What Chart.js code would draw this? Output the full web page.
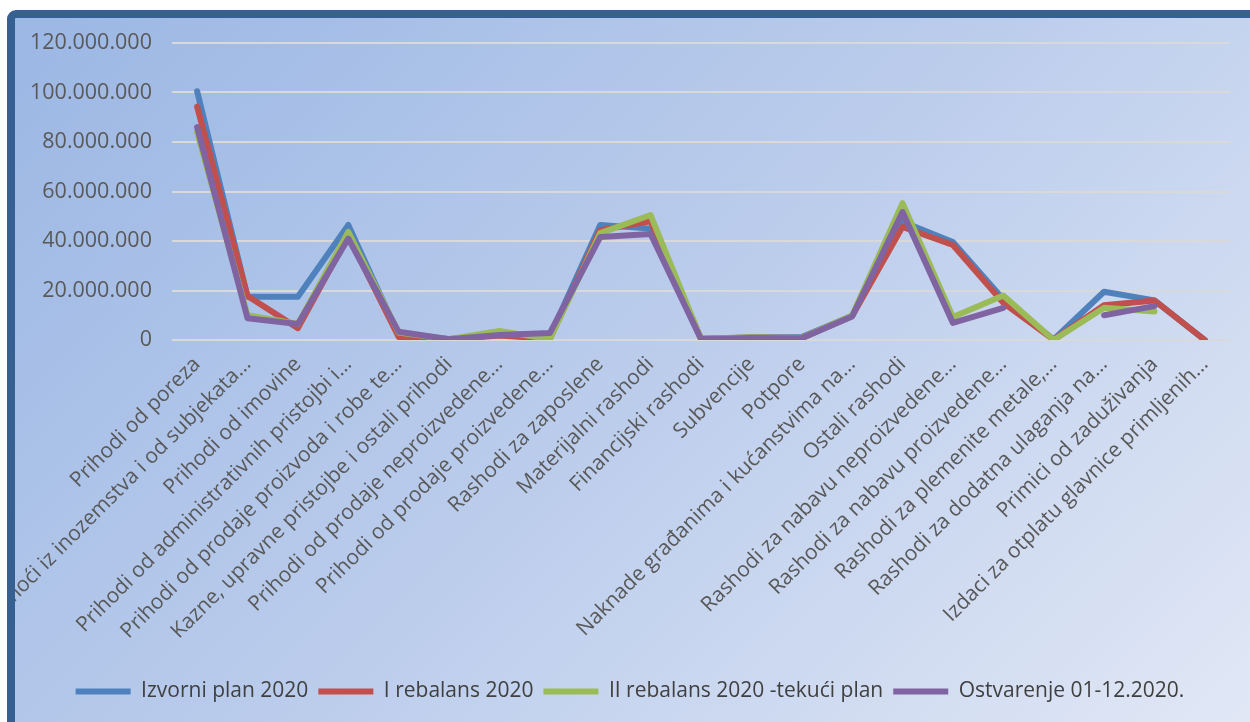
<!DOCTYPE html>
<html lang="hr">
<head>
    <meta charset="UTF-8">
    <title>Plan i ostvarenje 2020</title>
    <script src="https://cdn.jsdelivr.net/npm/chart.js"></script>
    <style>
        html, body { margin: 0; padding: 0; background: #fff; overflow: hidden; }
        .frame {
            position: absolute; left: 7px; top: 10px;
            width: 1260px; height: 730px;
            border: 8px solid #376092; border-radius: 9px;
            background: linear-gradient(135deg, #9bb7e4 0%, #bccdec 50%, #e3e9f6 100%);
        }
        .wrap { position: absolute; left: 15px; top: 18px; width: 1235px; height: 704px; }
    </style>
</head>
<body>
    <div class="frame"></div>
    <div class="wrap"><canvas id="chart"></canvas></div>
    <script>
        // Kategorije (x os)
        const categories = [
            "Prihodi od poreza",
            "Pomoći iz inozemstva i od subjekata…",
            "Prihodi od imovine",
            "Prihodi od administrativnih pristojbi i…",
            "Prihodi od prodaje proizvoda i robe te…",
            "Kazne, upravne pristojbe i ostali prihodi",
            "Prihodi od prodaje neproizvedene…",
            "Prihodi od prodaje proizvedene…",
            "Rashodi za zaposlene",
            "Materijalni rashodi",
            "Financijski rashodi",
            "Subvencije",
            "Potpore",
            "Naknade građanima i kućanstvima na…",
            "Ostali rashodi",
            "Rashodi za nabavu neproizvedene…",
            "Rashodi za nabavu proizvedene…",
            "Rashodi za plemenite metale,…",
            "Rashodi za dodatna ulaganja na…",
            "Primici od zaduživanja",
            "Izdaci za otplatu glavnice primljenih…"
        ];

        // Vrijednosti po seriji
        const izvorniPlan = [100500000, 17500000, 17500000, 46500000, 2000000, 400000, 2000000, 1500000, 46500000, 45000000,
            500000, 1000000, 1200000, 9800000, 47800000, 39600000, 16500000, 200000, 19500000, 16000000, 0];
        const iRebalans = [94300000, 17800000, 4800000, 42000000, 1200000, 300000, 1800000, 500000, 44400000, 48000000,
            500000, 1000000, 800000, 9700000, 45700000, 38400000, 15000000, 100000, 14000000, 16000000, 0];
        const iiRebalans = [84000000, 10000000, 6500000, 43700000, 3000000, 300000, 3700000, 300000, 43200000, 50500000,
            600000, 1000000, 800000, 9900000, 55300000, 9300000, 18000000, 0, 13000000, 11500000, null];
        const ostvarenje = [86000000, 8800000, 6500000, 41000000, 3300000, 300000, 2000000, 2800000, 41600000, 42800000,
            400000, 800000, 700000, 9500000, 51700000, 6900000, 13000000, null, 10000000, 13700000, null];

        const seriesNames = ["Izvorni plan 2020", "I rebalans 2020", "II rebalans 2020 -tekući plan", "Ostvarenje 01-12.2020."];
        const seriesColors = ["#4f81bd", "#c0504d", "#9bbb59", "#8064a2"];
        const seriesValues = [izvorniPlan, iRebalans, iiRebalans, ostvarenje];

        const yTicks = [0, 20000000, 40000000, 60000000, 80000000, 100000000, 120000000];

        function fmt(v) {
            return v.toString().replace(/\B(?=(\d{3})+(?!\d))/g, ".");
        }

        const datasets = seriesValues.map((vals, i) => ({
            label: seriesNames[i],
            data: vals,
            borderColor: seriesColors[i],
            backgroundColor: seriesColors[i],
            borderWidth: 6,
            borderJoinStyle: "round",
            borderCapStyle: "round",
            pointRadius: 0,
            tension: 0,
            order: 4 - i // zadnja serija crta se na vrhu
        }));

        const ctx = document.getElementById("chart").getContext("2d");
        new Chart(ctx, {
            type: "line",
            data: { labels: categories, datasets: datasets },
            options: {
                responsive: true,
                maintainAspectRatio: false,
                animation: false,
                layout: { padding: { left: 15, right: 20, top: 25, bottom: 10 } },
                plugins: {
                    tooltip: { enabled: false },
                    legend: {
                        position: "bottom",
                        labels: {
                            color: "#404040",
                            font: { family: "Open Sans", size: 21 },
                            boxWidth: 55,
                            boxHeight: 6,
                            padding: 10,
                            generateLabels: (chart) => chart.data.datasets.map((ds, i) => ({
                                text: ds.label,
                                fillStyle: ds.borderColor,
                                strokeStyle: ds.borderColor,
                                lineWidth: 0,
                                fontColor: "#404040",
                                datasetIndex: i,
                                hidden: false
                            }))
                        }
                    }
                },
                scales: {
                    x: {
                        offset: true,
                        grid: { display: false, drawTicks: false },
                        border: { display: false },
                        afterFit: (scale) => {
                            // prvi nagnuti natpis smije izaći lijevo, kao u predlošku
                            scale.paddingLeft = 0;
                            scale.paddingRight = 0;
                            scale.height = 331;
                        },
                        ticks: {
                            autoSkip: false,
                            minRotation: 45,
                            maxRotation: 45,
                            padding: 12,
                            color: "#595959",
                            font: { family: "Open Sans", size: 21 }
                        }
                    },
                    y: {
                        min: 0,
                        max: 120000000,
                        afterBuildTicks: (axis) => { axis.ticks = yTicks.map(v => ({ value: v })); },
                        afterFit: (scale) => {
                            // padding natpisa se broji dvaput u širini
                            scale.width -= 20;
                            scale.paddingTop -= 20;
                            scale.paddingBottom -= 20;
                        },
                        grid: { color: "#d9d9d9", lineWidth: 2, drawTicks: false },
                        border: { display: false },
                        ticks: {
                            padding: 20,
                            color: "#595959",
                            font: { family: "Open Sans", size: 21.5 },
                            callback: (v) => fmt(v)
                        }
                    }
                }
            }
        });
    </script>
</body>
</html>
